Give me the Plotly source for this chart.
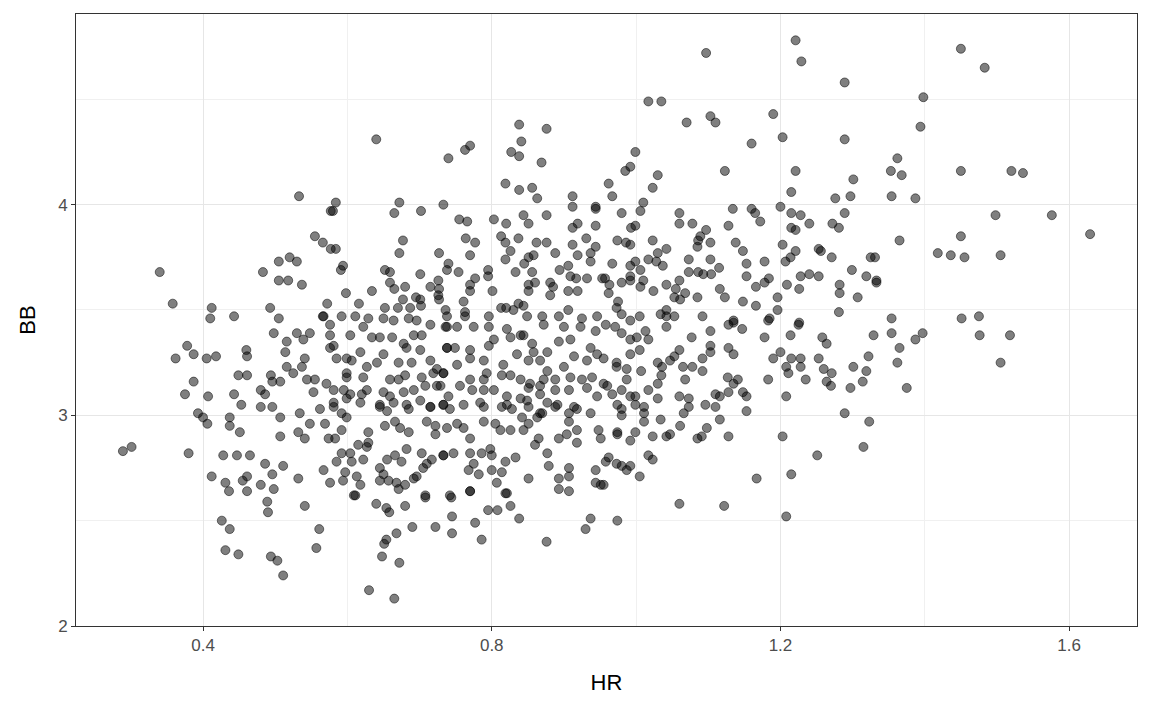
import plotly.graph_objects as go

# ---- data (HR, BB) ----
# left / lower-left region
hr_left = [0.289,0.301,0.380,0.362,0.378,0.387,0.405,0.418,0.387,0.375,0.407,0.393,0.400,0.406,0.437,0.437,0.451,0.412,0.428,0.447,
           0.465,0.431,0.436,0.455,0.461,0.461,0.480,0.486,0.496,0.498,0.489,0.490,0.541,0.426,0.437,0.431,0.449,0.494,
           0.503,0.511,0.561,0.557,0.480,0.486,0.496,0.480,
           0.443,0.453,0.449,0.461,0.494,0.496,0.460,0.461,0.498]
bb_left = [2.83,2.85,2.82,3.27,3.33,3.29,3.27,3.28,3.16,3.10,3.09,3.01,2.99,2.96,2.99,2.95,2.92,2.71,2.81,2.81,
           2.81,2.68,2.64,2.69,2.71,2.64,2.67,2.77,2.72,2.65,2.59,2.54,2.57,2.50,2.46,2.36,2.34,2.33,
           2.31,2.24,2.46,2.37,3.12,3.10,3.04,3.04,
           3.10,3.05,3.19,3.19,3.19,3.16,3.31,3.28,3.39]

# upper-left region
hr_upleft = [0.533,0.577,0.555,0.566,0.577,0.505,0.520,0.530,0.340,0.483,0.505,0.518,0.537,0.358,0.412,0.410,0.443,0.493,0.505,0.572,0.566]
bb_upleft = [4.04,3.97,3.85,3.82,3.79,3.73,3.75,3.73,3.68,3.68,3.64,3.64,3.62,3.53,3.51,3.46,3.47,3.51,3.46,3.53,3.47]

# upper-middle region
hr_upmid = [0.640,0.740,0.763,0.770,0.838,0.876,0.841,0.827,0.838,0.869,0.819,0.838,0.856,0.863,0.912,0.912,0.944,0.944,0.584,0.580,
            0.672,0.665,0.702,0.733,0.755,0.766,0.803,0.820,0.844,0.851,0.876,0.912,0.919,0.944,0.677,0.672,0.764,0.777,0.770,0.727,
            0.813,0.819,0.826,0.819,0.837,0.862,0.876,0.858,0.851,0.845,0.888,0.912,0.919,0.931,0.944,0.937,0.937,0.584,0.594,0.591,
            0.652,0.659,0.701,0.740,0.738,0.754,0.795,0.795,0.833,0.856,0.894,0.906,0.909,0.917,0.932,0.953,0.598,0.634,0.659,0.665,
            0.680,0.715,0.726,0.727,0.726,0.770,0.777,0.770,0.801,0.851,0.860,0.851,0.881,0.885,0.881,0.906,0.919,0.616,0.677,0.695,
            0.701,0.727,0.761,0.670,0.652,0.687,0.702,0.736,0.763,0.813,0.820,0.830,0.837,0.844,0.906]
bb_upmid = [4.31,4.22,4.26,4.28,4.38,4.36,4.30,4.25,4.23,4.20,4.10,4.07,4.08,4.03,4.04,3.99,3.99,3.98,4.01,3.97,
            4.01,3.96,3.97,4.00,3.93,3.92,3.93,3.91,3.95,3.91,3.95,3.89,3.91,3.90,3.83,3.77,3.84,3.82,3.76,3.77,
            3.85,3.82,3.78,3.74,3.84,3.82,3.82,3.76,3.75,3.72,3.77,3.81,3.76,3.84,3.80,3.77,3.73,3.79,3.71,3.69,
            3.69,3.68,3.67,3.72,3.69,3.68,3.69,3.66,3.68,3.68,3.69,3.71,3.66,3.65,3.65,3.65,3.58,3.59,3.63,3.60,
            3.61,3.61,3.64,3.60,3.57,3.62,3.65,3.59,3.59,3.62,3.63,3.59,3.63,3.61,3.57,3.59,3.59,3.53,3.55,3.56,
            3.55,3.55,3.54,3.51,3.51,3.51,3.52,3.50,3.49,3.51,3.51,3.50,3.53,3.52,3.50]

# upper-right-middle region
hr_upright = [1.097,1.017,1.035,1.070,1.103,1.110,1.221,1.229,1.190,1.203,1.160,1.289,1.289,0.999,0.992,0.985,1.030,1.023,0.962,0.967,
              1.010,1.006,0.980,1.123,1.221,1.215,1.301,1.276,1.297,1.060,1.060,1.078,1.134,1.160,1.165,1.172,1.200,1.215,1.228,1.240,
              1.128,1.097,1.086,1.089,1.103,1.085,1.215,1.221,1.272,1.281,1.289,0.993,0.999,0.974,0.986,0.992,1.023,1.138,1.148,1.203,
              1.221,1.214,1.207,1.253,1.256,1.271,1.325,1.017,1.030,1.042,1.028,1.037,0.967,0.992,0.999,1.006,1.073,1.103,1.115,1.073,
              1.086,1.093,1.104,1.153,1.153,1.178,1.184,1.178,1.166,1.209,1.228,1.240,1.253,1.226,1.282,1.282,1.299,1.319,1.307,0.957,
              0.963,0.980,0.992,0.992,1.010,1.006,0.962,1.024,1.042,1.060,1.055,1.053,1.068,1.061,1.085,1.116,1.123,1.148,1.166,1.196,
              0.975,0.973,0.980,1.005,0.992,1.034,1.042,1.042,1.053,1.092,1.135,1.185,1.196,1.226,1.281]
bb_upright = [4.72,4.49,4.49,4.39,4.42,4.39,4.78,4.68,4.43,4.32,4.29,4.58,4.31,4.25,4.18,4.16,4.14,4.08,4.10,4.04,
              4.01,3.97,3.96,4.16,4.16,4.06,4.12,4.03,4.04,3.96,3.91,3.91,3.98,3.98,3.96,3.92,3.99,3.96,3.95,3.91,
              3.90,3.88,3.83,3.85,3.82,3.80,3.89,3.88,3.91,3.89,3.96,3.89,3.90,3.83,3.82,3.81,3.83,3.82,3.78,3.81,
              3.78,3.75,3.73,3.79,3.78,3.75,3.75,3.74,3.77,3.79,3.73,3.71,3.72,3.71,3.73,3.69,3.74,3.74,3.70,3.68,
              3.68,3.67,3.67,3.72,3.66,3.73,3.65,3.63,3.61,3.62,3.66,3.67,3.66,3.60,3.62,3.58,3.69,3.66,3.56,3.65,
              3.62,3.63,3.64,3.66,3.64,3.61,3.58,3.59,3.62,3.64,3.60,3.56,3.58,3.55,3.56,3.60,3.56,3.54,3.52,3.56,
              3.54,3.51,3.48,3.47,3.45,3.48,3.50,3.47,3.47,3.47,3.45,3.46,3.50,3.44,3.49]

# far right region
hr_right = [1.450,1.483,1.398,1.394,1.362,1.353,1.368,1.450,1.520,1.536,1.354,1.387,1.498,1.576,1.629,1.450,1.365,1.418,1.436,1.455,
            1.505,1.331,1.333,1.333,1.354,1.451,1.475,1.354,1.329,1.365,1.362,1.387,1.397,1.375,1.476,1.518,1.505]
bb_right = [4.74,4.65,4.51,4.37,4.22,4.16,4.14,4.16,4.16,4.15,4.04,4.03,3.95,3.95,3.86,3.85,3.83,3.77,3.76,3.75,
            3.76,3.75,3.64,3.63,3.46,3.46,3.47,3.39,3.38,3.32,3.25,3.36,3.39,3.13,3.38,3.38,3.25]

# lower-right-middle region
hr_lowright = [0.974,1.060,1.122,1.208,1.167,1.215,1.251,1.315,1.203,1.289,1.323,1.128,1.153,1.116,1.098,1.085,1.091,1.061,1.047,1.042,
               1.023,1.034,1.011,0.999,0.992,0.974,0.974,1.017,1.023,1.005,0.992,0.987,0.980,0.973,0.962,0.955,1.208,1.183,1.190,
               1.200,1.215,1.208,1.211,1.228,1.228,1.235,1.253,1.260,1.271,1.264,1.270,1.297,1.314,1.301,1.319,1.322,1.258,1.264,1.225,
               1.214,1.178,1.183,1.147,1.128,1.135,1.103,1.077,1.103,1.103,1.128,1.135,1.127,1.141,1.135,1.148,1.153,1.128,1.110,1.116,
               1.110,1.096,1.092,1.092,1.078,1.068,1.065,1.060,1.053,1.047,1.036,1.035,1.030,1.030,1.030,1.017,1.060,1.073,1.073,1.066,
               1.011,1.011,0.999,0.999,0.992,0.980,0.980,0.974,0.967,0.980,0.987,0.987,0.973,0.973,1.007,1.005,0.992,0.971,
               0.980,0.992,1.001,1.013,1.017,1.042]
bb_lowright = [2.50,2.58,2.57,2.52,2.70,2.72,2.81,2.85,2.90,3.01,2.97,2.90,3.02,2.98,2.94,2.89,2.90,2.95,2.91,2.90,
               2.90,2.98,2.97,2.92,2.88,2.92,2.91,2.81,2.79,2.71,2.76,2.74,2.76,2.77,2.80,2.67,3.09,3.17,3.27,
               3.30,3.27,3.23,3.20,3.27,3.23,3.17,3.27,3.22,3.20,3.16,3.14,3.13,3.16,3.23,3.21,3.28,3.37,3.34,3.43,
               3.38,3.37,3.45,3.41,3.43,3.44,3.40,3.37,3.33,3.30,3.32,3.29,3.18,3.17,3.15,3.11,3.09,3.11,3.10,3.09,
               3.04,3.05,3.27,3.21,3.23,3.17,3.23,3.31,3.28,3.26,3.23,3.19,3.25,3.15,3.08,3.12,3.09,3.08,3.04,3.01,
               3.04,3.01,3.09,3.05,3.09,3.03,3.00,3.05,3.10,3.12,3.17,3.22,3.23,3.25,3.21,3.31,3.29,3.42,
               3.39,3.36,3.37,3.40,3.36,3.42]

# lower-middle region
hr_lowmid = [0.609,0.640,0.654,0.658,0.680,0.708,0.744,0.770,0.795,0.808,0.819,0.826,0.838,
             0.690,0.722,0.745,0.745,0.777,0.786,0.876,0.930,0.937,0.668,0.654,0.651,0.648,0.672,0.630,0.665]
bb_lowmid = [2.62,2.58,2.56,2.54,2.57,2.61,2.61,2.64,2.55,2.55,2.63,2.57,2.51,
             2.47,2.47,2.52,2.44,2.49,2.41,2.40,2.46,2.51,2.44,2.41,2.39,2.33,2.30,2.17,2.13]

# dense core, upper-left quarter
hr_core_a = [0.567,0.592,0.611,0.629,0.650,0.664,0.685,0.696,0.715,0.738,0.530,0.548,0.516,0.539,0.576,0.576,0.604,0.622,0.634,0.645,
             0.662,0.678,0.692,0.703,0.514,0.541,0.576,0.581,0.585,0.599,0.606,0.618,0.641,0.650,0.671,0.682,0.689,0.701,0.715,0.724,
             0.738,0.516,0.525,0.537,0.544,0.555,0.599,0.599,0.622,0.627,0.659,0.671,0.680,0.703,0.719,0.733,0.507,0.553,0.571,0.581,
             0.595,0.604,0.620,0.627,0.650,0.659,0.678,0.692,0.708,0.724,0.581,0.599,0.618,0.645,0.664,0.682,0.701,0.715,0.733]
bb_core_a = [3.47,3.47,3.47,3.46,3.46,3.45,3.46,3.45,3.43,3.42,3.39,3.39,3.35,3.36,3.43,3.38,3.38,3.42,3.37,3.37,
             3.37,3.34,3.38,3.38,3.30,3.27,3.32,3.33,3.27,3.27,3.26,3.30,3.25,3.29,3.25,3.32,3.25,3.31,3.26,3.22,
             3.32,3.23,3.20,3.23,3.17,3.17,3.20,3.18,3.18,3.23,3.17,3.17,3.19,3.18,3.20,3.20,3.16,3.11,3.15,3.12,
             3.12,3.10,3.10,3.12,3.11,3.09,3.11,3.12,3.14,3.14,3.06,3.08,3.06,3.05,3.06,3.05,3.07,3.04,3.05]

# dense core, upper-right quarter
hr_core_b = [0.738,0.763,0.796,0.849,0.870,0.893,0.925,0.946,0.736,0.752,0.775,0.796,0.821,0.844,0.872,0.900,0.923,0.944,0.958,0.738,
             0.749,0.770,0.796,0.803,0.826,0.840,0.856,0.858,0.877,0.893,0.909,0.937,0.946,0.914,0.733,0.752,0.770,0.789,0.793,0.816,
             0.835,0.851,0.867,0.877,0.900,0.932,0.955,0.770,0.789,0.814,0.826,0.840,0.853,0.872,0.888,0.909,0.925,0.939,0.955,0.729,
             0.740,0.756,0.773,0.789,0.803,0.821,0.840,0.851,0.867,0.867,0.888,0.907,0.932,0.946,0.960,0.761,0.784,0.821,0.849,0.877,
             0.891,0.914]
bb_core_b = [3.47,3.47,3.47,3.47,3.47,3.47,3.46,3.47,3.42,3.42,3.42,3.42,3.41,3.38,3.43,3.42,3.42,3.40,3.43,3.32,
             3.32,3.31,3.33,3.36,3.37,3.38,3.34,3.30,3.30,3.35,3.36,3.32,3.29,3.28,3.20,3.24,3.27,3.26,3.20,3.24,
             3.29,3.26,3.26,3.21,3.23,3.26,3.27,3.17,3.17,3.19,3.19,3.17,3.15,3.17,3.17,3.18,3.17,3.18,3.15,3.14,
             3.09,3.14,3.12,3.12,3.12,3.09,3.08,3.13,3.14,3.10,3.12,3.12,3.13,3.09,3.14,3.05,3.06,3.05,3.07,3.06,
             3.05,3.04]

# dense core, lower-left quarter
hr_core_c = [0.534,0.562,0.581,0.592,0.599,0.645,0.655,0.685,0.715,0.733,0.507,0.548,0.569,0.532,0.541,0.574,0.583,0.592,0.629,0.652,
             0.666,0.673,0.685,0.710,0.722,0.722,0.738,0.507,0.629,0.627,0.615,0.592,0.604,0.622,0.655,0.666,0.675,0.682,0.703,0.717,
             0.733,0.511,0.567,0.585,0.606,0.597,0.613,0.645,0.650,0.668,0.680,0.692,0.705,0.710,0.696,0.532,0.576,0.594,0.618,0.645,
             0.657,0.671,0.611,0.708]
bb_core_c = [3.01,3.03,3.04,3.01,2.99,3.04,3.02,3.03,3.04,3.05,2.99,2.96,2.96,2.92,2.89,2.89,2.89,2.93,2.92,2.95,
             2.97,2.94,2.92,2.97,2.95,2.91,2.94,2.90,2.87,2.85,2.86,2.82,2.82,2.79,2.79,2.81,2.78,2.84,2.82,2.79,
             2.81,2.76,2.74,2.78,2.78,2.73,2.71,2.75,2.72,2.68,2.67,2.70,2.75,2.77,2.71,2.70,2.68,2.69,2.67,2.69,
             2.69,2.65,2.62,2.62]

# dense core, lower-right quarter
hr_core_d = [0.742,0.789,0.814,0.828,0.851,0.867,0.888,0.907,0.918,0.937,0.752,0.761,0.789,0.805,0.812,0.826,0.842,0.851,0.844,0.863,
             0.870,0.865,0.860,0.877,0.893,0.904,0.907,0.918,0.918,0.948,0.951,0.770,0.733,0.747,0.770,0.786,0.798,0.800,0.775,0.782,
             0.768,0.800,0.814,0.819,0.833,0.851,0.879,0.907,0.907,0.893,0.893,0.907,0.944,0.944,0.951,0.958,0.770,0.821,0.807,0.742]
bb_core_d = [3.03,3.04,3.04,3.03,3.04,3.01,3.04,3.01,3.03,3.01,2.96,2.94,2.97,2.96,2.93,2.93,2.99,2.96,2.93,2.99,
             3.01,2.89,2.86,2.82,2.89,2.91,2.97,2.93,2.87,2.93,2.89,2.89,2.81,2.82,2.82,2.82,2.84,2.81,2.77,2.72,
             2.74,2.74,2.73,2.78,2.80,2.70,2.76,2.75,2.71,2.70,2.65,2.64,2.74,2.68,2.67,2.78,2.64,2.63,2.68,2.62]

hr = hr_left + hr_upleft + hr_upmid + hr_upright + hr_right + hr_lowright + hr_lowmid + hr_core_a + hr_core_b + hr_core_c + hr_core_d
bb = bb_left + bb_upleft + bb_upmid + bb_upright + bb_right + bb_lowright + bb_lowmid + bb_core_a + bb_core_b + bb_core_c + bb_core_d

x_ticks = [0.4, 0.8, 1.2, 1.6]
x_tick_labels = ["0.4", "0.8", "1.2", "1.6"]
y_ticks = [2, 3, 4]
y_tick_labels = ["2", "3", "4"]

fig = go.Figure(go.Scatter(
    x=hr, y=bb, mode="markers",
    marker=dict(size=9, color="rgba(0,0,0,0.5)",
                line=dict(color="rgba(0,0,0,0.5)", width=1)),
    hoverinfo="x+y", showlegend=False,
))

font_family = "Liberation Sans, Arial, sans-serif"
axis_common = dict(
    showline=True, mirror=True, linecolor="#333333", linewidth=1,
    showgrid=True, gridcolor="#e6e6e6", gridwidth=1.4,
    zeroline=False, ticks="outside", ticklen=4, tickcolor="#333333", tickwidth=1,
    tickfont=dict(family=font_family, size=17, color="#4d4d4d"),
)

# the page body adds an 8px offset, so the figure is sized/margined to match
fig.update_layout(
    width=1144, height=703,
    paper_bgcolor="white", plot_bgcolor="white",
    margin=dict(l=68, r=15, t=6, b=85),
    font=dict(family=font_family),
    xaxis=dict(range=[0.224, 1.694], tickvals=x_ticks, ticktext=x_tick_labels,
               title=dict(text="HR", font=dict(family=font_family, size=22, color="black"), standoff=20),
               minor=dict(tickvals=[0.6, 1.0, 1.4], showgrid=True, gridcolor="#f0f0f0", gridwidth=0.8, ticks=""),
               **axis_common),
    yaxis=dict(range=[2.0, 4.905], tickvals=y_ticks, ticktext=y_tick_labels,
               title=dict(text="BB", font=dict(family=font_family, size=22, color="black"), standoff=16),
               minor=dict(tickvals=[2.5, 3.5, 4.5], showgrid=True, gridcolor="#f0f0f0", gridwidth=0.8, ticks=""),
               **axis_common),
)

fig.write_html("out.html")
